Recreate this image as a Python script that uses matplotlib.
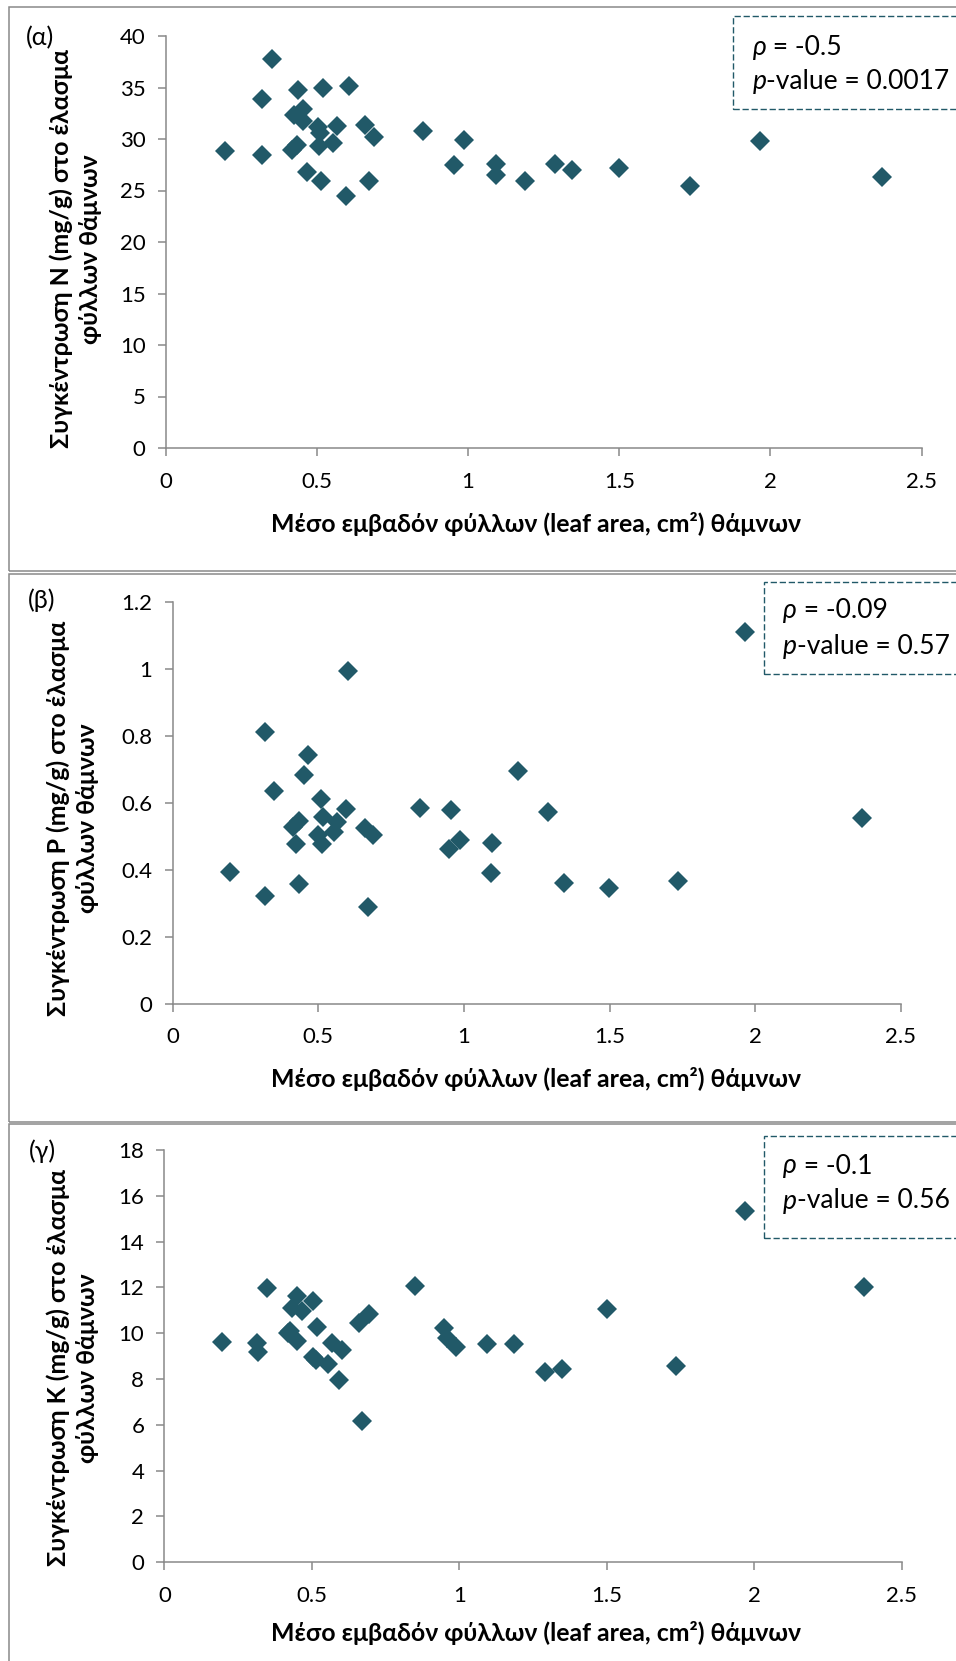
import matplotlib
matplotlib.use("Agg")
import matplotlib.pyplot as plt
from matplotlib.patches import Rectangle

plt.rcParams['font.family'] = ['Lato', 'Open Sans', 'DejaVu Sans']

# ---------------- data ----------------
x_N = [0.197, 0.317, 0.319, 0.350, 0.416, 0.424, 0.433, 0.438, 0.453, 0.455,
       0.466, 0.502, 0.507, 0.510, 0.512, 0.519, 0.554, 0.568, 0.595, 0.605,
       0.659, 0.671, 0.689, 0.850, 0.953, 0.988, 1.094, 1.092, 1.187, 1.288,
       1.343, 1.498, 1.735, 1.967, 2.368]
y_N = [28.8, 33.9, 28.4, 37.8, 28.9, 32.3, 29.4, 34.8, 32.9, 31.7,
       26.8, 31.2, 29.3, 30.6, 25.9, 35.0, 29.6, 31.3, 24.5, 35.1,
       31.4, 25.9, 30.2, 30.8, 27.5, 29.9, 27.6, 26.5, 25.9, 27.6,
       27.0, 27.2, 25.4, 29.8, 26.3]

x_P = [0.196, 0.316, 0.318, 0.348, 0.414, 0.423, 0.432, 0.435, 0.450, 0.464,
       0.500, 0.508, 0.511, 0.517, 0.555, 0.563, 0.594, 0.603, 0.660, 0.669,
       0.689, 0.849, 0.949, 0.954, 0.986, 1.092, 1.095, 1.184, 1.287, 1.343,
       1.497, 1.734, 1.966, 2.367]
y_P = [0.392, 0.811, 0.322, 0.635, 0.529, 0.477, 0.359, 0.547, 0.684, 0.744,
       0.505, 0.612, 0.477, 0.559, 0.514, 0.542, 0.582, 0.994, 0.525, 0.290,
       0.504, 0.585, 0.462, 0.580, 0.489, 0.390, 0.480, 0.696, 0.572, 0.360,
       0.347, 0.367, 1.109, 0.556]

x_K = [0.196, 0.315, 0.317, 0.347, 0.418, 0.425, 0.432, 0.449, 0.451, 0.466,
       0.504, 0.505, 0.514, 0.519, 0.556, 0.567, 0.593, 0.603, 0.660, 0.669,
       0.692, 0.850, 0.949, 0.957, 0.989, 1.095, 1.186, 1.290, 1.347, 1.500,
       1.735, 1.970, 2.373]
y_K = [9.61, 9.59, 9.20, 11.96, 10.03, 10.10, 11.12, 9.68, 11.64, 10.97,
       11.42, 8.98, 8.83, 10.29, 8.65, 9.56, 7.96, 9.27, 10.44, 6.18,
       10.83, 12.08, 10.22, 9.81, 9.42, 9.53, 9.53, 8.32, 8.44, 11.06,
       8.56, 15.33, 12.00]

x_ticks = [0, 0.5, 1, 1.5, 2, 2.5]
x_tick_labels = ["0", "0.5", "1", "1.5", "2", "2.5"]
y_ticks_N = [0, 5, 10, 15, 20, 25, 30, 35, 40]
y_tick_labels_N = ["0", "5", "10", "15", "20", "25", "30", "35", "40"]
y_ticks_P = [0, 0.2, 0.4, 0.6, 0.8, 1.0, 1.2]
y_tick_labels_P = ["0", "0.2", "0.4", "0.6", "0.8", "1", "1.2"]
y_ticks_K = [0, 2, 4, 6, 8, 10, 12, 14, 16, 18]
y_tick_labels_K = ["0", "2", "4", "6", "8", "10", "12", "14", "16", "18"]

x_label = "Μέσο εμβαδόν φύλλων (leaf area, cm²) θάμνων"
y_labels = ["Συγκέντρωση N (mg/g) στο έλασμα\nφύλλων θάμνων",
            "Συγκέντρωση P (mg/g) στο έλασμα\nφύλλων θάμνων",
            "Συγκέντρωση K (mg/g) στο έλασμα\nφύλλων θάμνων"]
panel_letters = ["(α)", "(β)", "(γ)"]
rho_values = ["-0.5", "-0.09", "-0.1"]
p_values = ["0.0017", "0.57", "0.56"]

# ---------------- layout (pixels) ----------------
W, H, DPI = 956, 1661, 100
MARK = '#215968'
GRAY = '#898989'

axes_px = [(165.8, 36.0, 921.5, 448.0),
           (172.7, 602.0, 901.0, 1003.7),
           (164.4, 1150.0, 901.8, 1562.3)]
frames_px = [(8.5, 7.4, 1100, 571.0),
             (8.5, 573.5, 1100, 1122.0),
             (8.5, 1124.5, 1100, 1800)]
ylabel_px = [(75.5, 249), (73, 818), (73, 1368)]
xlabel_px = [(536, 524), (536, 1079), (536, 1633)]
letter_px = [(40, 38), (42, 600), (42, 1151)]
statbox_px = [(733.4, 16, 109), (764, 582, 674), (764, 1136, 1238)]
stattext_px = [(752.5, 47.7, 81.6), (783, 610.5, 646.5), (783, 1166, 1201)]

def fx(x):
    return x / W

def fy(y):
    return 1 - y / H

fig = plt.figure(figsize=(W / DPI, H / DPI), dpi=DPI)

datasets = [(x_N, y_N, y_ticks_N, y_tick_labels_N),
            (x_P, y_P, y_ticks_P, y_tick_labels_P),
            (x_K, y_K, y_ticks_K, y_tick_labels_K)]

# panel frames
for (l, t, r, b) in frames_px:
    fig.add_artist(Rectangle((fx(l), fy(b)), (r - l) / W, (b - t) / H,
                             transform=fig.transFigure, fill=False,
                             edgecolor=GRAY, linewidth=1.1))

xlabels, ylabels = [], []
stat_pieces = []
for i, (xs, ys, yt, ytl) in enumerate(datasets):
    l, t, r, b = axes_px[i]
    ax = fig.add_axes([fx(l), fy(b), (r - l) / W, (b - t) / H])
    ax.set_facecolor('none')
    ax.plot(xs, ys, linestyle='none', marker='D', markersize=10.2,
            color=MARK, markeredgewidth=0, clip_on=False, zorder=3)
    ax.set_xlim(0, 2.5)
    ax.set_ylim(yt[0], yt[-1])
    ax.set_xticks(x_ticks)
    ax.set_xticklabels(x_tick_labels)
    ax.set_yticks(yt)
    ax.set_yticklabels(ytl)
    for s in ['top', 'right']:
        ax.spines[s].set_visible(False)
    for s in ['left', 'bottom']:
        ax.spines[s].set_color(GRAY)
        ax.spines[s].set_linewidth(1.1)
    ax.tick_params(axis='both', direction='out', length=5.5, width=1.1,
                   color=GRAY, labelsize=16, labelcolor='black')
    ax.tick_params(axis='x', pad=11.5)
    ax.tick_params(axis='y', pad=9)

    xl = fig.text(fx(xlabel_px[i][0]), fy(xlabel_px[i][1]), x_label,
                  ha='center', va='center', fontsize=16, fontweight='bold')
    xlabels.append(xl)
    yl = fig.text(fx(ylabel_px[i][0]), fy(ylabel_px[i][1]), y_labels[i],
                  ha='center', va='center', rotation=90, fontsize=16,
                  fontweight='bold', multialignment='center', linespacing=1.3)
    ylabels.append(yl)
    fig.text(fx(letter_px[i][0]), fy(letter_px[i][1]), panel_letters[i],
             ha='center', va='center', fontsize=18)

    # stat box
    bx, bt, bb = statbox_px[i]
    fig.add_artist(Rectangle((fx(bx), fy(bb)), (1100 - bx) / W, (bb - bt) / H,
                             transform=fig.transFigure, fill=False,
                             edgecolor=MARK, linewidth=1.0,
                             linestyle=(0, (4.5, 2.0))))
    tx, ty1, ty2 = stattext_px[i]
    a1 = fig.text(fx(tx), fy(ty1), "ρ", style='italic', ha='left',
                  va='center', fontsize=17)
    a2 = ax.annotate(" = " + rho_values[i], xy=(1, 0.5), xycoords=a1,
                     ha='left', va='center', fontsize=17)
    b1 = fig.text(fx(tx), fy(ty2), "p", style='italic', ha='left',
                  va='center', fontsize=17)
    b2 = ax.annotate("-value = " + p_values[i], xy=(1, 0.5), xycoords=b1,
                     ha='left', va='center', fontsize=17)
    stat_pieces.append((a1, a2, b1, b2))

# --- fit text sizes to the reference widths ---
fig.canvas.draw()
rend = fig.canvas.get_renderer()
w = xlabels[0].get_window_extent(rend).width
fs_lab = 16 * 532.0 / w
for t in xlabels + ylabels:
    t.set_fontsize(fs_lab)
pa = stat_pieces[0]
wst = pa[2].get_window_extent(rend).width + pa[3].get_window_extent(rend).width
fs_st = 17 * 198.0 / wst
for grp in stat_pieces:
    for t in grp:
        t.set_fontsize(fs_st)

fig.savefig("out.png", dpi=DPI)
